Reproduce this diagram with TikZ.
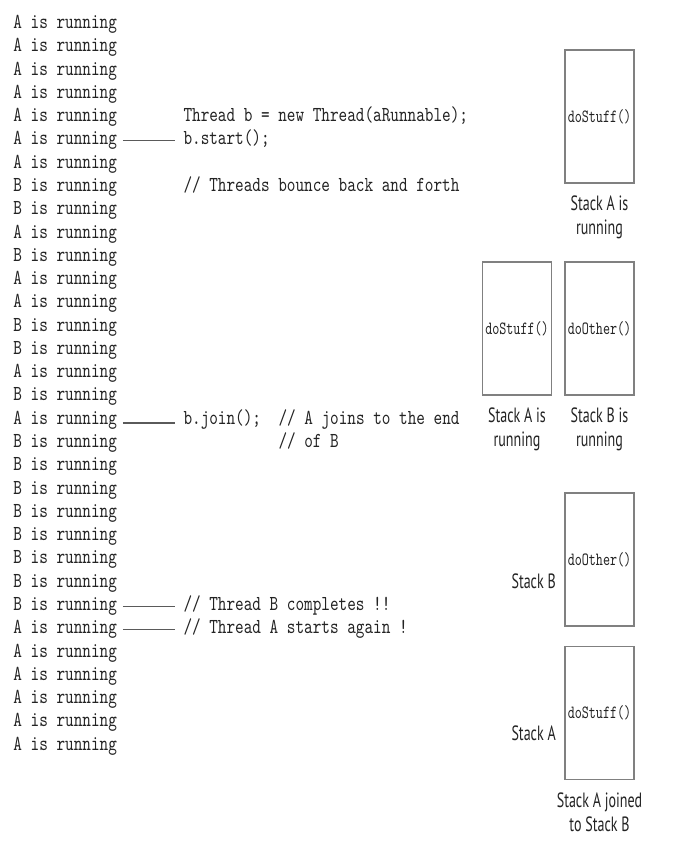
\documentclass[tikz,border=0pt]{standalone}
\usepackage{fontspec}
\newfontfamily\codefont{lmmono10-regular.otf}[FakeStretch=0.77]
\newfontfamily\boxfont{lmmono10-regular.otf}[FakeStretch=0.72]
\newfontfamily\labelfont{PT Sans}[FakeStretch=0.68]
\definecolor{txtgray}{RGB}{35,35,35}
\definecolor{boxgray}{RGB}{128,128,128}
\definecolor{lnkgray}{RGB}{90,90,90}
\tikzset{every picture/.style={line width=0.75pt}}
\tikzset{
  runline/.style={anchor=base west, inner sep=0pt, text=txtgray, font=\codefont\fontsize{16}{18}\selectfont},
  link/.style={draw=lnkgray, line width=0.9pt, shorten <=4pt, shorten >=6pt},
  stackbox/.style={draw=boxgray, line width=1.1pt, inner sep=0pt, minimum width=51.75pt, minimum height=99.75pt, text=txtgray, font=\boxfont\fontsize{14}{16}\selectfont},
  stacklabel/.style={inner sep=0pt, align=center, text=txtgray, font=\labelfont\fontsize{15.5}{18}\selectfont}
}

\begin{document}
\begin{tikzpicture}[x=0.75pt,y=0.75pt,yscale=-1,xscale=1]
\useasboundingbox (0,0) rectangle (672,849);

% Output lines
\node[runline] (r1) at (13,28.5) {A is running};
\node[runline] (r2) at (13,51.78) {A is running};
\node[runline] (r3) at (13,75.06) {A is running};
\node[runline] (r4) at (13,98.34) {A is running};
\node[runline] (r5) at (13,121.62) {A is running};
\node[runline] (r6) at (13,144.9) {A is running};
\node[runline] (r7) at (13,168.18) {A is running};
\node[runline] (r8) at (13,191.46) {B is running};
\node[runline] (r9) at (13,214.74) {B is running};
\node[runline] (r10) at (13,238.02) {A is running};
\node[runline] (r11) at (13,261.3) {B is running};
\node[runline] (r12) at (13,284.58) {A is running};
\node[runline] (r13) at (13,307.86) {A is running};
\node[runline] (r14) at (13,331.14) {B is running};
\node[runline] (r15) at (13,354.42) {B is running};
\node[runline] (r16) at (13,377.7) {A is running};
\node[runline] (r17) at (13,400.98) {B is running};
\node[runline] (r18) at (13,424.26) {A is running};
\node[runline] (r19) at (13,447.54) {B is running};
\node[runline] (r20) at (13,470.82) {B is running};
\node[runline] (r21) at (13,494.1) {B is running};
\node[runline] (r22) at (13,517.38) {B is running};
\node[runline] (r23) at (13,540.66) {B is running};
\node[runline] (r24) at (13,563.94) {B is running};
\node[runline] (r25) at (13,587.22) {B is running};
\node[runline] (r26) at (13,610.5) {B is running};
\node[runline] (r27) at (13,633.78) {A is running};
\node[runline] (r28) at (13,657.06) {A is running};
\node[runline] (r29) at (13,680.34) {A is running};
\node[runline] (r30) at (13,703.62) {A is running};
\node[runline] (r31) at (13,726.9) {A is running};
\node[runline] (r32) at (13,750.18) {A is running};

% Code lines
\node[runline] (newthr) at (183,121.62) {Thread b = new Thread(aRunnable);};
\node[runline] (bstart) at (183,144.9) {b.start();};
\node[runline] (bounce) at (183,191.46) {// Threads bounce back and forth};
\node[runline] (bjoin) at (183,424.26) {b.join();};
\node[runline] (joincom) at (278,424.26) {// A joins to the end};
\node[runline] (ofb) at (278,447.54) {// of B};
\node[runline] (bdone) at (183,610.5) {// Thread B completes !!};
\node[runline] (aagain) at (183,633.78) {// Thread A starts again !};

% Connectors
\draw[link] (r6.east) -- (r6.east -| bstart.west);
\draw[link] ([yshift=-1pt]r18.base east) -- ([yshift=-1pt]r18.base east -| bjoin.west);
\draw[link] (r26.east) -- (r26.east -| bdone.west);
\draw[link] (r27.east) -- (r27.east -| aagain.west);

% Stacks
\node[stackbox] (sa1) at (599.5,116.5) {doStuff()};
\node[stacklabel, anchor=north] (lsa1) at ([yshift=9pt]sa1.south) {Stack A is\\running};

\node[stackbox] (sa2) at (517,328.5) {doStuff()};
\node[stacklabel, anchor=north] (lsa2) at ([yshift=9pt]sa2.south) {Stack A is\\running};
\node[stackbox] (sb2) at (599.5,328.5) {doOther()};
\node[stacklabel, anchor=north] (lsb2) at ([yshift=9pt]sb2.south) {Stack B is\\running};

\node[stackbox] (sb3) at (599.5,559.5) {doOther()};
\node[stacklabel, anchor=east] (lsb3) at ([xshift=-6pt,yshift=16.5pt]sb3.west) {Stack B};
\node[stackbox] (sa4) at (599.5,713) {doStuff()};
\node[stacklabel, anchor=east] (lsa4) at ([xshift=-6pt,yshift=15pt]sa4.west) {Stack A};
\node[stacklabel, anchor=north] (ljoin) at ([yshift=9pt]sa4.south) {Stack A joined\\to Stack B};

\end{tikzpicture}
\end{document}
